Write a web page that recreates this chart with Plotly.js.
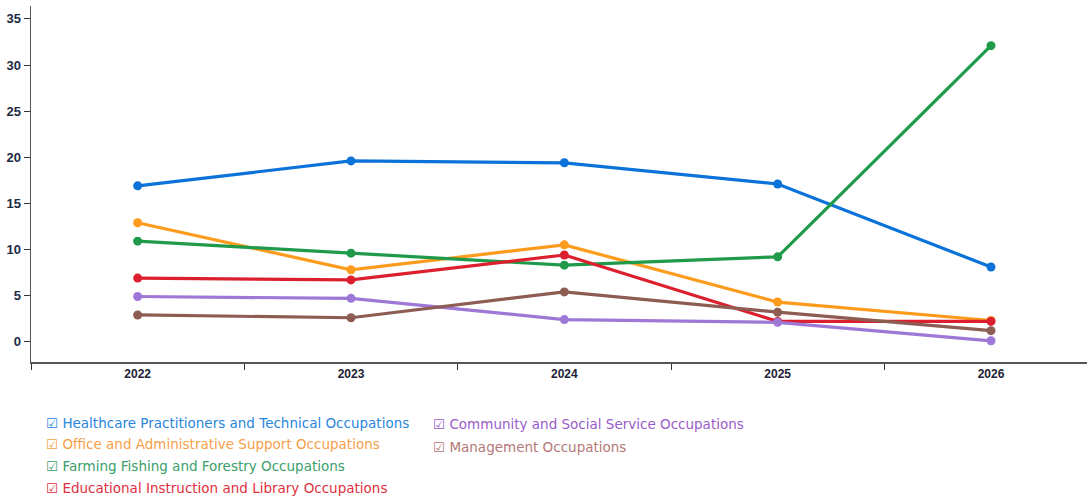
<!DOCTYPE html>
<html>
<head>
<meta charset="utf-8">
<script src="https://cdn.plot.ly/plotly-3.0.1.min.js"></script>
<style>
html,body{margin:0;padding:0;background:#fff;}
#chart{width:1087px;height:497px;}
</style>
</head>
<body>
<div id="chart"></div>
<script>
const years = ['2022', '2023', '2024', '2025', '2026'];
const seriesNames = [
  'Healthcare Practitioners and Technical Occupations',
  'Office and Administrative Support Occupations',
  'Farming Fishing and Forestry Occupations',
  'Educational Instruction and Library Occupations',
  'Community and Social Service Occupations',
  'Management Occupations'
];
const healthcare = [16.9, 19.6, 19.4, 17.1, 8.1];
const office = [12.9, 7.8, 10.5, 4.3, 2.3];
const farming = [10.9, 9.6, 8.3, 9.2, 32.1];
const educational = [6.9, 6.7, 9.4, 2.2, 2.2];
const community = [4.9, 4.7, 2.4, 2.1, 0.1];
const management = [2.9, 2.6, 5.4, 3.2, 1.2];
const yTicks = [0, 5, 10, 15, 20, 25, 30, 35];

const values = [healthcare, office, farming, educational, community, management];
const lineColors = ['#0b72d9', '#fd9b1c', '#1f9a4a', '#dc1f2e', '#9d78d6', '#8d5c52'];
const legendColors = ['#2a86dd', '#f7a04a', '#3aa06a', '#e03040', '#9a5cc9', '#b57878'];
// legend positions: [column x (px), row y (px)]
const legendPos = [[44, 423], [44, 444], [44, 466], [44, 488], [431, 424], [431, 447]];

const traces = values.map((v, i) => ({
  type: 'scatter',
  mode: 'lines+markers',
  x: years,
  y: v,
  name: seriesNames[i],
  line: {color: lineColors[i], width: 3.2},
  marker: {color: lineColors[i], size: 9},
  showlegend: false
}));

const W = 1087, H = 497;
const annotations = seriesNames.map((n, i) => ({
  xref: 'paper', yref: 'paper',
  x: (legendPos[i][0] - 31) / (W - 31),
  y: (H - 135 - legendPos[i][1]) / (H - 135 - 6),
  xanchor: 'left', yanchor: 'middle',
  showarrow: false,
  text: '☑ ' + n,
  font: {family: 'DejaVu Sans, Verdana, sans-serif', size: 13.5, color: legendColors[i]}
}));

const layout = {
  width: W, height: H,
  margin: {l: 31, r: 0, t: 6, b: 135},
  paper_bgcolor: '#fff',
  plot_bgcolor: '#fff',
  showlegend: false,
  xaxis: {
    type: 'category',
    range: [-0.5, 4.45],
    tickson: 'boundaries',
    ticks: 'outside',
    ticklen: 6,
    tickcolor: '#333',
    showline: true,
    linecolor: '#555',
    linewidth: 1.5,
    showgrid: false,
    zeroline: false,
    tickfont: {family: 'Liberation Sans, Arial, sans-serif', size: 12, color: '#1c2336', weight: 'bold'}
  },
  yaxis: {
    range: [-2.2, 36.4],
    tickvals: yTicks,
    ticktext: yTicks.map(String),
    ticks: 'outside',
    ticklen: 6,
    tickcolor: '#333',
    showline: true,
    linecolor: '#555',
    linewidth: 1.5,
    showgrid: false,
    zeroline: false,
    tickfont: {family: 'Liberation Sans, Arial, sans-serif', size: 13, color: '#1c2a44', weight: 'bold'}
  },
  annotations: annotations
};

Plotly.newPlot('chart', traces, layout, {displayModeBar: false, staticPlot: true});
</script>
</body>
</html>
